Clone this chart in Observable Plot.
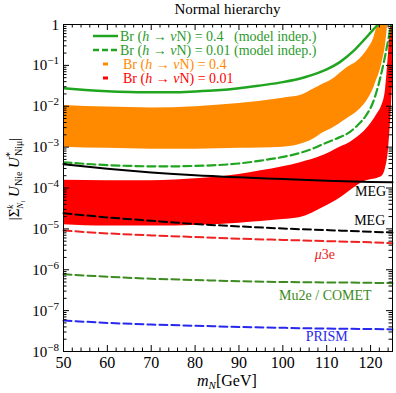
<!DOCTYPE html>
<html><head><meta charset="utf-8">
<script src="https://cdn.jsdelivr.net/npm/d3@7"></script>
<script src="https://cdn.jsdelivr.net/npm/@observablehq/plot@0.6"></script>
<style>body{margin:0;background:#fff} svg{display:block}</style>
</head><body><div id="chart"></div>
<script>
// ---- data (m_N in GeV, values of |Σ U U*|) ----
const mBr04 = [50,55,60,65,70,75,80,85,90,95,100,105,110,113,116,118.4,120,121,121.7,122.3];
const vBr04 = [0.0275,0.0251,0.0234,0.0224,0.0219,0.0219,0.0229,0.0245,0.0275,0.0324,0.0389,0.0513,0.0794,0.120,0.219,0.407,0.631,0.832,1.0,1.26];

const mBr001 = [50,55,60,65,70,75,80,85,90,95,100,104,107,109.3,112,115.4,117,119,120.5,122.7,124.1,124.7,125];
const vBr001 = [4.27e-4,3.89e-4,3.63e-4,3.47e-4,3.39e-4,3.39e-4,3.47e-4,3.63e-4,3.98e-4,4.68e-4,5.75e-4,7.24e-4,9.33e-4,1.20e-3,1.58e-3,2.40e-3,3.39e-3,6.03e-3,1.20e-2,8.32e-2,0.457,1.0,1.41];

const mLim = [50,60,70,80,90,100,110,120,125];
const vMEG = [3.80e-4,2.95e-4,2.40e-4,2.04e-4,1.82e-4,1.66e-4,1.51e-4,1.41e-4,1.38e-4];
const vMEGfut = [2.40e-5,1.91e-5,1.58e-5,1.32e-5,1.15e-5,1.02e-5,9.33e-6,8.51e-6,8.13e-6];
const vMu3e = [9.12e-6,7.76e-6,6.92e-6,6.31e-6,5.75e-6,5.37e-6,5.01e-6,4.68e-6,4.47e-6];
const vMu2e = [7.76e-7,6.76e-7,6.03e-7,5.62e-7,5.25e-7,5.01e-7,4.90e-7,4.79e-7,4.68e-7];
const vPRISM = [5.75e-8,5.01e-8,4.57e-8,4.27e-8,3.98e-8,3.80e-8,3.63e-8,3.55e-8,3.47e-8];

// scan region, Br = 0.4 (orange)
const mOrange = [50,60,70,80,90,100,104,107,109.3,110.9,114.7,117,119.5,120.7,121.3,121.8,122.7,123.4,123.9];
const loOrange = [1.00e-3,9.33e-4,8.91e-4,8.91e-4,9.33e-4,1.00e-3,1.17e-3,1.58e-3,2.29e-3,2.75e-3,5.01e-3,7.41e-3,1.55e-2,2.75e-2,4.17e-2,5.62e-2,0.126,0.309,1.0];
const hiOrange = [1.05e-2,9.55e-3,9.12e-3,9.77e-3,1.17e-2,1.58e-2,1.82e-2,2.63e-2,3.55e-2,4.27e-2,8.91e-2,0.126,0.263,0.457,0.759,1.0,1.58,1.58,1.58];

// scan region, Br = 0.01 (red)
const mRed = [50,60,70,81,90,95,100,104,109.3,113,115.4,117,117.7,119.5,121,121.6,122.5,123.4,124.1,124.6,125];
const loRed = [1.26e-5,1.17e-5,1.17e-5,1.23e-5,1.38e-5,1.51e-5,1.70e-5,1.91e-5,3.39e-5,5.62e-5,8.71e-5,1.15e-4,1.29e-4,1.55e-4,1.66e-4,1.74e-4,1.91e-4,3.02e-4,8.91e-4,5.01e-3,3.16e-2];
const hiRed = [1.55e-4,1.51e-4,1.51e-4,1.70e-4,2.14e-4,2.63e-4,3.31e-4,4.17e-4,6.31e-4,1.0e-3,1.32e-3,1.74e-3,2.0e-3,3.16e-3,5.25e-3,6.61e-3,1.0e-2,2.51e-2,0.2,1.0,1.58];

// experiment labels
const labelText = ["MEG","MEG","μ3e","Mu2e / COMET","PRISM"];
const labelM = [120,119.8,109.7,109.7,110];
const labelV = [8.04e-5,1.58e-5,2.24e-6,2.34e-7,2.29e-8];

const xTickLabels = [50,60,70,80,90,100,110,120];
const yDecades = [-8,-7,-6,-5,-4,-3,-2,-1,0];

// ---- styles ----
const GREEN = "#1fa51f", GREEN_TXT = "#2b9a2b", OLIVE = "#3d8b21", ORANGE = "#ff8a00", RED = "#ff0000", RED_LINE = "#ee2222", BLUE = "#2828ee";
const FONT = "Liberation Serif, Times New Roman, serif";

const W = 396, H = 393, mt = 24, mb = 42, ml = 63, mr = 4;
const plotW = W - ml - mr, plotH = H - mt - mb;

const curve = (ms, vs) => ms.map((m, i) => ({m, v: vs[i]}));
const band = (ms, lo, hi) => ms.map((m, i) => ({m, lo: lo[i], hi: hi[i]}));

const xMinor = d3.range(52, 125, 2).filter(v => v % 10 !== 0);
const yMajor = yDecades.map(e => 10 ** e);
const yMinor = [];
for (const e of yDecades.slice(0, -1)) for (let k = 2; k <= 9; k++) yMinor.push(k * 10 ** e);

const labels = labelText.map((t, i) => ({t, m: labelM[i], v: labelV[i]}));
const labelColor = {"MEG": "black", "μ3e": RED_LINE, "Mu2e / COMET": OLIVE, "PRISM": BLUE};

const dash = "8,4";
const plot = Plot.plot({
  width: W, height: H,
  marginTop: mt, marginBottom: mb, marginLeft: ml, marginRight: mr,
  style: {fontFamily: FONT, fontSize: "16px", background: "white", color: "black"},
  x: {domain: [50, 125]},
  y: {type: "log", domain: [1e-8, 1], axis: null},
  marks: [
    Plot.areaY(band(mOrange, loOrange, hiOrange), {x: "m", y1: "lo", y2: "hi", fill: ORANGE, curve: "monotone-x", clip: true}),
    Plot.areaY(band(mRed, loRed, hiRed), {x: "m", y1: "lo", y2: "hi", fill: RED, curve: "monotone-x", clip: true}),
    Plot.line(curve(mBr04, vBr04), {x: "m", y: "v", stroke: GREEN, strokeWidth: 2.5, curve: "monotone-x", clip: true}),
    Plot.line(curve(mBr001, vBr001), {x: "m", y: "v", stroke: GREEN, strokeWidth: 2.2, strokeDasharray: dash, curve: "monotone-x", clip: true}),
    Plot.line(curve(mLim, vMEG), {x: "m", y: "v", stroke: "black", strokeWidth: 2, curve: "monotone-x"}),
    Plot.line(curve(mLim, vMEGfut), {x: "m", y: "v", stroke: "black", strokeWidth: 2, strokeDasharray: dash, curve: "monotone-x"}),
    Plot.line(curve(mLim, vMu3e), {x: "m", y: "v", stroke: RED_LINE, strokeWidth: 2, strokeDasharray: dash, curve: "monotone-x"}),
    Plot.line(curve(mLim, vMu2e), {x: "m", y: "v", stroke: OLIVE, strokeWidth: 2, strokeDasharray: dash, curve: "monotone-x"}),
    Plot.line(curve(mLim, vPRISM), {x: "m", y: "v", stroke: BLUE, strokeWidth: 2, strokeDasharray: dash, curve: "monotone-x"}),
    // ticks inside the frame
    Plot.ruleX(xTickLabels, {x: d => d, insetTop: plotH - 6}),
    Plot.ruleX(xTickLabels, {x: d => d, insetBottom: plotH - 6}),
    Plot.ruleX(xMinor, {x: d => d, insetTop: plotH - 3.5}),
    Plot.ruleX(xMinor, {x: d => d, insetBottom: plotH - 3.5}),
    Plot.ruleY(yMajor, {y: d => d, insetRight: plotW - 6}),
    Plot.ruleY(yMajor, {y: d => d, insetLeft: plotW - 6}),
    Plot.ruleY(yMinor, {y: d => d, insetRight: plotW - 3.5}),
    Plot.ruleY(yMinor, {y: d => d, insetLeft: plotW - 3.5}),
    Plot.frame({stroke: "black", strokeWidth: 1}),
    Plot.axisX(xTickLabels, {tickSize: 0, tickPadding: 5, fontSize: 16, tickFormat: d => String(d), label: null}),
    Plot.text(labels.filter(d => d.t !== "μ3e"), {x: "m", y: "v", text: "t", fill: d => labelColor[d.t], fontSize: 14, fontFamily: FONT})
  ]
});

const svg = d3.select(plot);
const xs = plot.scale("x");
const ys = plot.scale("y");

// μ3e label (italic μ only)
for (const d of labels.filter(d => d.t === "μ3e")) {
  const t = svg.append("text").attr("x", xs.apply(d.m)).attr("y", ys.apply(d.v) + 4.5).attr("text-anchor", "middle")
    .attr("font-family", FONT).attr("font-size", 14).attr("fill", labelColor[d.t]);
  t.append("tspan").attr("font-style", "italic").text("μ");
  t.append("tspan").text("3e");
}

// y tick labels with superscripts
for (const e of yDecades) {
  const y = ys.apply(10 ** e);
  const t = svg.append("text").attr("x", 59).attr("y", y + 5.5).attr("text-anchor", "end")
    .attr("font-family", FONT).attr("font-size", 15).attr("fill", "black");
  if (e === 0) { t.text("1"); continue; }
  t.append("tspan").text("10");
  t.append("tspan").attr("font-size", 11).attr("dy", -6).text("\u2212" + Math.abs(e));
}

// title
svg.append("text").attr("x", 227.5).attr("y", 14).attr("text-anchor", "middle")
  .attr("font-family", FONT).attr("font-size", 15).text("Normal hierarchy");

// x label
const xl = svg.append("text").attr("x", 197).attr("y", 386).attr("text-anchor", "start").attr("font-family", FONT).attr("font-size", 16);
xl.append("tspan").attr("font-style", "italic").text("m");
xl.append("tspan").attr("font-style", "italic").attr("font-size", 11).attr("dy", 3).text("N");
xl.append("tspan").attr("dy", -3).text("[GeV]");

// y label
const yl = svg.append("text").attr("transform", "translate(19,179) rotate(-90)").attr("text-anchor", "middle")
  .attr("font-family", FONT).attr("font-size", 15);
yl.append("tspan").text("|Σ");
yl.append("tspan").attr("font-size", 9).attr("font-style", "italic").attr("dy", -6).text("k");
yl.append("tspan").attr("font-size", 9).attr("font-style", "italic").attr("dx", -4).attr("dy", 10).text("N");
yl.append("tspan").attr("font-size", 7).attr("font-style", "italic").attr("dy", 2).text("i");
yl.append("tspan").attr("dy", -6).text(" ");
yl.append("tspan").attr("font-style", "italic").text("U");
yl.append("tspan").attr("font-size", 10).attr("dy", 3).text("Nie");
yl.append("tspan").attr("dy", -3).text(" ");
yl.append("tspan").attr("font-style", "italic").text("U");
yl.append("tspan").attr("font-size", 10).attr("dy", -6).text("*");
yl.append("tspan").attr("font-size", 10).attr("dx", -4).attr("dy", 9).text("Niμ");
yl.append("tspan").attr("dy", -3).text("|");

// legend
const legendRows = [
  {c: GREEN_TXT, line: "solid", val: "0.4", extra: "   (model indep.)"},
  {c: GREEN_TXT, line: "dash", val: "0.01", extra: " (model indep.)"},
  {c: ORANGE, line: "dot", val: "0.4", extra: ""},
  {c: RED, line: "dot", val: "0.01", extra: ""}
];
legendRows.forEach((r, i) => {
  const cy = 36 + i * 14;
  if (r.line === "solid") svg.append("line").attr("x1", 93).attr("x2", 118).attr("y1", cy).attr("y2", cy).attr("stroke", GREEN).attr("stroke-width", 2.5);
  else if (r.line === "dash") svg.append("line").attr("x1", 93).attr("x2", 118).attr("y1", cy).attr("y2", cy).attr("stroke", GREEN).attr("stroke-width", 2.5).attr("stroke-dasharray", "6,3");
  else svg.append("line").attr("x1", 103).attr("x2", 108).attr("y1", cy).attr("y2", cy).attr("stroke", r.c).attr("stroke-width", 3);
  const tx = svg.append("text").attr("x", r.line === "dot" ? 123 : 120).attr("y", cy + 4.5).attr("text-anchor", "start")
    .attr("font-family", FONT).attr("font-size", 14).attr("fill", r.c).style("white-space", "pre");
  tx.append("tspan").text("Br (");
  tx.append("tspan").attr("font-style", "italic").text("h");
  tx.append("tspan").text(" → ");
  tx.append("tspan").attr("font-style", "italic").text("ν");
  tx.append("tspan").text("N) = " + r.val + r.extra);
});

document.getElementById("chart").appendChild(plot);
</script>
</body></html>
